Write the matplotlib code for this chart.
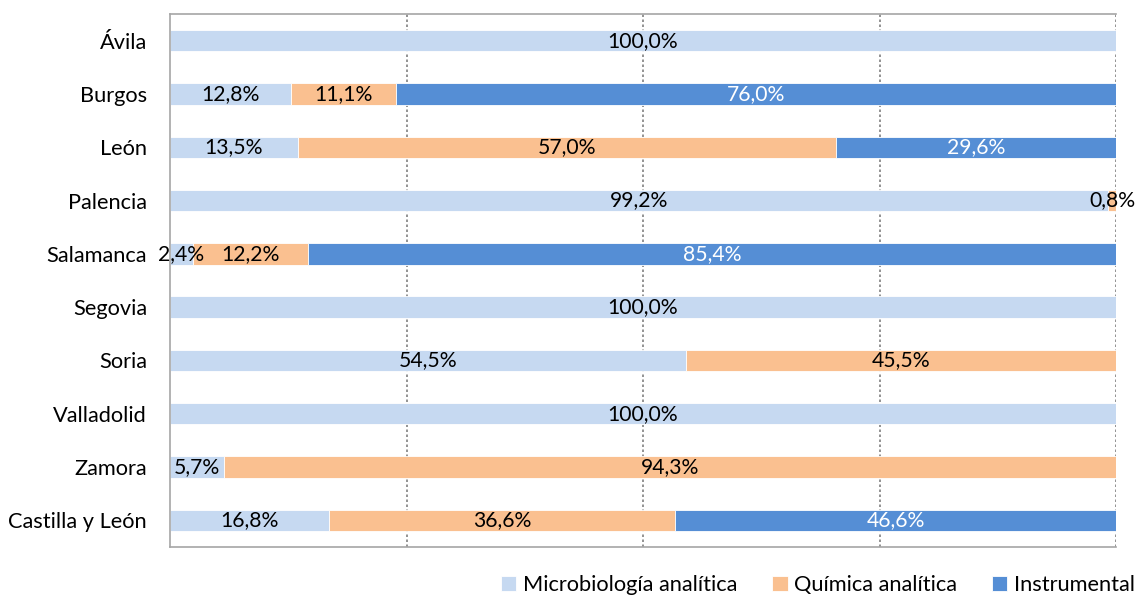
import matplotlib
matplotlib.use("Agg")
import matplotlib.pyplot as plt
import numpy as np

plt.rcParams['font.family'] = ['Lato', 'DejaVu Sans']

provincias = ["Ávila", "Burgos", "León", "Palencia", "Salamanca", "Segovia",
              "Soria", "Valladolid", "Zamora", "Castilla y León"]
microbiologia = [100.0, 12.8, 13.5, 99.2, 2.4, 100.0, 54.5, 100.0, 5.7, 16.8]
quimica = [0.0, 11.1, 57.0, 0.8, 12.2, 0.0, 45.5, 0.0, 94.3, 36.6]
instrumental = [0.0, 76.0, 29.6, 0.0, 85.4, 0.0, 0.0, 0.0, 0.0, 46.6]
series_names = ["Microbiología analítica", "Química analítica", "Instrumental"]
colors = ["#C6D9F1", "#FAC090", "#558ED5"]
text_colors = ["black", "black", "white"]

data = np.array([microbiologia, quimica, instrumental])
totals = data.sum(axis=0)
frac = data / totals

fig = plt.figure(figsize=(11.37, 5.97), dpi=100)
ax = fig.add_axes([170/1137, 1-547/597, (1116-170)/1137, (547-14)/597])

y = np.arange(len(provincias))
left = np.zeros(len(provincias))
for i in range(3):
    ax.barh(y, frac[i], left=left, height=0.4, color=colors[i],
            edgecolor='white', linewidth=0.6, label=series_names[i], zorder=2)
    for j in range(len(provincias)):
        v = data[i, j]
        if v > 0:
            cx = left[j] + frac[i, j] / 2
            ax.text(cx, y[j], f"{v:.1f}%".replace('.', ','), ha='center', va='center',
                    color=text_colors[i], fontsize=15.2, zorder=3, clip_on=False)
    left = left + frac[i]

ax.set_xlim(0, 1)
ax.set_ylim(len(provincias) - 0.5, -0.5)
ax.set_yticks(y)
ax.set_yticklabels(provincias, fontsize=15.7)
ax.tick_params(axis='y', length=0, pad=16.5)
ax.set_xticks([0.25, 0.5, 0.75, 1.0])
ax.tick_params(axis='x', length=0, labelbottom=False)
ax.grid(axis='x', linestyle=(0, (1.5, 1.5)), color='#808080', linewidth=1.2, zorder=1)
for s in ['left', 'top', 'bottom']:
    ax.spines[s].set_color('#A6A6A6')
    ax.spines[s].set_linewidth(1.2)
ax.spines['right'].set_visible(False)

fig.legend(loc='center', bbox_to_anchor=(818/1137, 1-585/597), ncol=3, frameon=False,
           fontsize=15.7, handlelength=0.7, handleheight=0.7, handletextpad=0.3,
           columnspacing=1.6)

fig.savefig("out.png", dpi=100)
